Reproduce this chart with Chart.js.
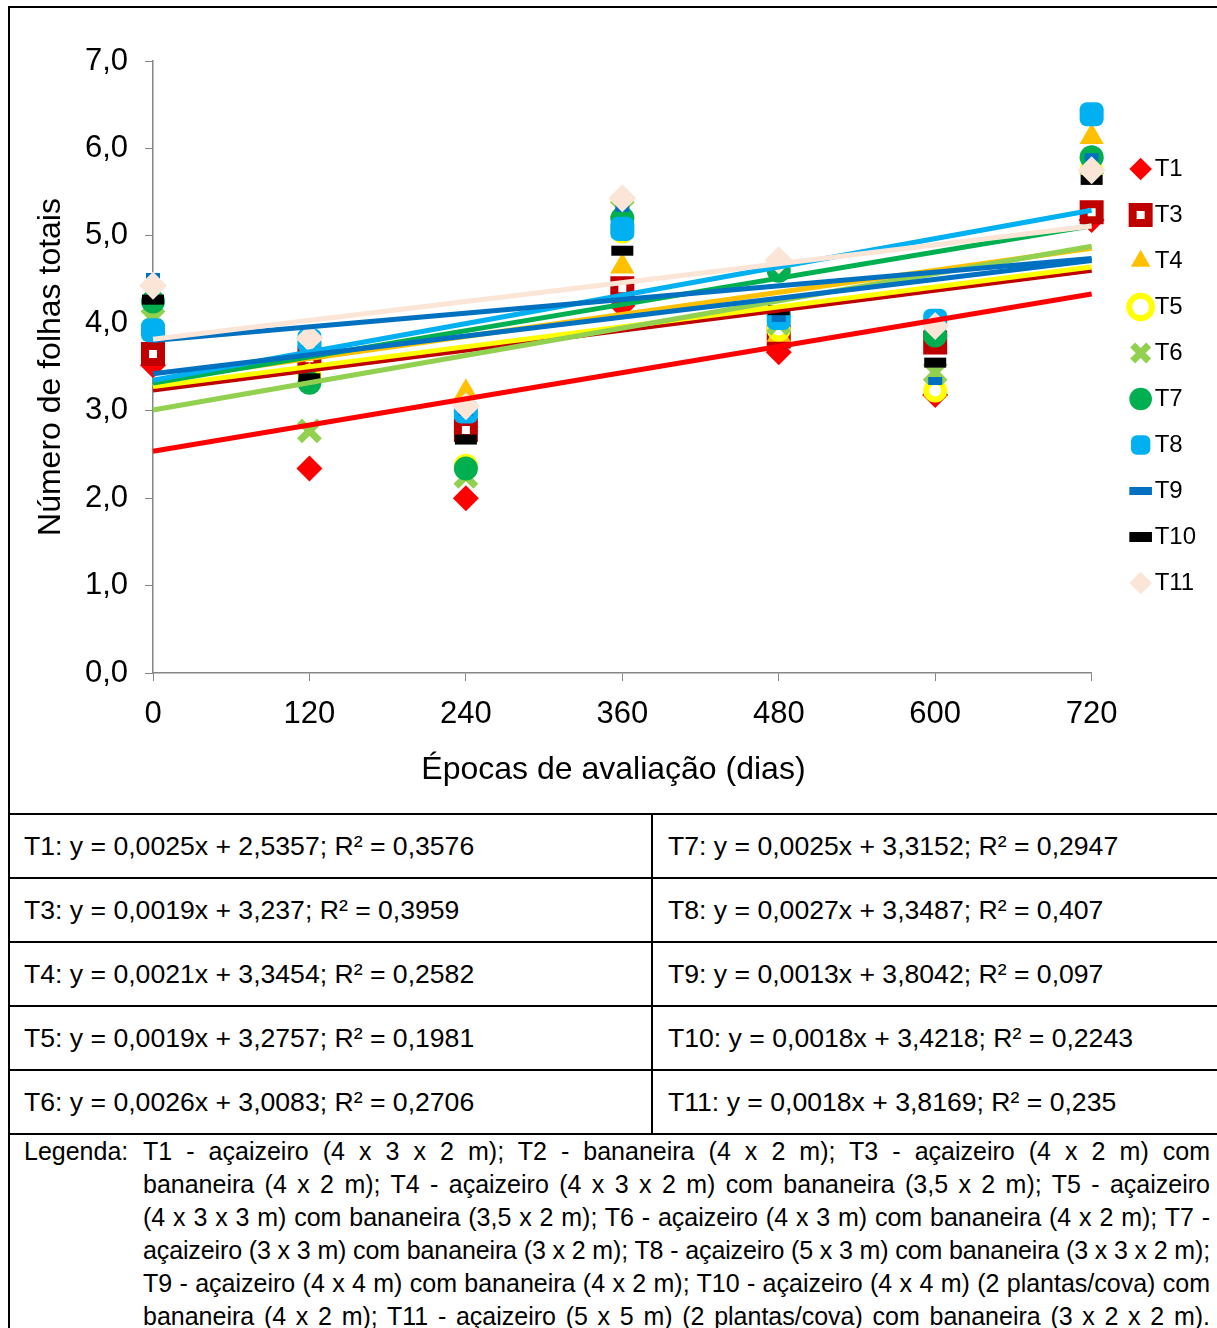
<!DOCTYPE html>
<html lang="pt">
<head>
<meta charset="utf-8">
<title>Número de folhas totais</title>
<script src="https://cdn.jsdelivr.net/npm/chart.js@4.4.0/dist/chart.umd.min.js"></script>
<style>
  body { margin: 0; background: #fff; color: #000; font-family: "Liberation Sans", Arial, sans-serif; }
  #frame { position: absolute; left: 8px; top: 6px; width: 1220px; border-left: 2px solid #000; border-top: 2px solid #000; }
  #plot { height: 805px; border-bottom: 2px solid #000; }
  table { border-collapse: collapse; }
  td { height: 62px; padding: 0; border-bottom: 2px solid #000; font-size: 26.6px; white-space: nowrap; }
  td.c1 { width: 627px; padding-left: 14px; border-right: 2px solid #000; }
  td.c2 { width: 560px; padding-left: 15px; }
  #legenda { display: flex; padding: 0 0 0 14px; font-size: 25px; line-height: 33px; }
  #legenda .rot { width: 119px; }
  #legenda .txt { width: 1067px; }
  #legenda .ln { white-space: nowrap; text-align: justify; text-align-last: justify; }
</style>
</head>
<body>
<div id="frame">
  <div id="plot"><canvas id="graf" width="1207" height="805"></canvas></div>
  <table id="eqs"></table>
  <div id="legenda">
    <div class="rot">Legenda:</div>
    <div class="txt">
      <div class="ln">T1 - açaizeiro (4 x 3 x 2 m); T2 - bananeira (4 x 2 m); T3 - açaizeiro (4 x 2 m) com</div>
      <div class="ln">bananeira (4 x 2 m); T4 - açaizeiro (4 x 3 x 2 m) com bananeira (3,5 x 2 m); T5 - açaizeiro</div>
      <div class="ln">(4 x 3 x 3 m) com bananeira (3,5 x 2 m); T6 - açaizeiro (4 x 3 m) com bananeira (4 x 2 m); T7 -</div>
      <div class="ln">açaizeiro (3 x 3 m) com bananeira (3 x 2 m); T8 - açaizeiro (5 x 3 m) com bananeira (3 x 3 x 2 m);</div>
      <div class="ln">T9 - açaizeiro (4 x 4 m) com bananeira (4 x 2 m); T10 - açaizeiro (4 x 4 m) (2 plantas/cova) com</div>
      <div class="ln">bananeira (4 x 2 m); T11 - açaizeiro (5 x 5 m) (2 plantas/cova) com bananeira (3 x 2 x 2 m).</div>
    </div>
  </div>
</div>
<script>
// dados
const epocas = [0, 120, 240, 360, 480, 600, 720];
const yTicks = [0, 1, 2, 3, 4, 5, 6, 7];
const tratamentos = ["T1", "T3", "T4", "T5", "T6", "T7", "T8", "T9", "T10", "T11"];

const t1  = [3.52, 2.34, 2.00, 4.20, 3.67, 3.18, 5.18];
const t3  = [3.65, 3.60, 2.78, 4.40, 3.85, 3.78, 5.27];
const t4  = [4.00, 3.40, 3.21, 4.65, 3.87, 3.24, 6.13];
const t5  = [3.95, 3.40, 2.37, 5.05, 3.93, 3.23, 5.75];
const t6  = [4.05, 2.77, 2.25, 5.30, 4.00, 3.44, 5.80];
const t7  = [4.25, 3.32, 2.34, 5.20, 4.60, 3.86, 5.90];
const t8  = [3.92, 3.80, 2.99, 5.08, 4.06, 4.03, 6.39];
const t9  = [4.53, 3.78, 2.99, 5.32, 4.06, 3.34, 5.90];
const t10 = [4.27, 3.37, 2.67, 4.83, 4.15, 3.55, 5.64];
const t11 = [4.43, 3.83, 3.05, 5.43, 4.72, 3.97, 5.75];
const series = [t1, t3, t4, t5, t6, t7, t8, t9, t10, t11];

// equações das linhas de tendência (tabela)
const coefAngular = [0.0025, 0.0019, 0.0021, 0.0019, 0.0026, 0.0025, 0.0027, 0.0013, 0.0018, 0.0018];
const coefLinear  = ["2,5357", "3,237", "3,3454", "3,2757", "3,0083", "3,3152", "3,3487", "3,8042", "3,4218", "3,8169"];
const r2          = ["0,3576", "0,3959", "0,2582", "0,1981", "0,2706", "0,2947", "0,407", "0,097", "0,2243", "0,235"];

const num = s => parseFloat(s.replace(",", "."));
const fmt = (v, d) => v.toFixed(d).replace(".", ",");

// estilos
const marcadores = [
  { pointStyle: "rectRot", radius: 13, bg: "#FF0000", bc: "#FF0000", bw: 0 },
  { pointStyle: "rect", radius: 11.3, bg: "#FFFFFF", bc: "#C00000", bw: 8 },
  { pointStyle: "triangle", radius: 14, bg: "#FFC000", bc: "#FFC000", bw: 0 },
  { pointStyle: "circle", radius: 9, bg: "#FFFFFF", bc: "#FFFF00", bw: 6 },
  { pointStyle: "crossRot", radius: 14, bg: "#92D050", bc: "#92D050", bw: 7 },
  { pointStyle: "circle", radius: 12, bg: "#00B050", bc: "#00B050", bw: 0 },
  { pointStyle: "rectRounded", radius: 14, bg: "#00B0F0", bc: "#00B0F0", bw: 0 },
  { pointStyle: "line", radius: 7, bg: "#0070C0", bc: "#0070C0", bw: 8 },
  { pointStyle: "line", radius: 11, bg: "#000000", bc: "#000000", bw: 10 },
  { pointStyle: "rectRot", radius: 14, bg: "#FBE5D6", bc: "#FBE5D6", bw: 0 }
];
const coresTendencia = ["#FF0000", "#C00000", "#FFC000", "#FFFF00", "#92D050", "#00B050", "#00B0F0", "#0070C0", "#0070C0", "#FBE5D6"];

// tabela de equações
const tab = document.getElementById("eqs");
const eqTxt = i => tratamentos[i] + ": y = " + fmt(coefAngular[i], 4) + "x + " + coefLinear[i] + "; R² = " + r2[i];
for (let r = 0; r < 5; r++) {
  const tr = document.createElement("tr");
  tr.innerHTML = '<td class="c1">' + eqTxt(r) + '</td><td class="c2">' + eqTxt(r + 5) + "</td>";
  tab.appendChild(tr);
}

// ajusta linhas da legenda que não cabem
document.querySelectorAll("#legenda .ln").forEach(el => {
  const over = el.scrollWidth - el.clientWidth;
  if (over > 0) el.style.letterSpacing = (-over / el.textContent.length) + "px";
});

Chart.defaults.font.family = "'Liberation Sans', Arial, sans-serif";
Chart.defaults.color = "#000";

const datasets = [];
series.forEach((s, i) => {
  const m = marcadores[i];
  datasets.push({
    label: tratamentos[i],
    data: s.map((v, k) => ({ x: epocas[k], y: v })),
    pointStyle: m.pointStyle,
    pointRadius: m.radius,
    pointHoverRadius: m.radius,
    pointBackgroundColor: m.bg,
    pointBorderColor: m.bc,
    pointBorderWidth: m.bw,
    backgroundColor: m.bg,
    borderColor: m.bc,
    showLine: false,
    clip: false,
    order: 100 - i
  });
});
series.forEach((s, i) => {
  const a = num(coefLinear[i]);
  const b = coefAngular[i];
  datasets.push({
    label: "Linear (" + tratamentos[i] + ")",
    data: [{ x: epocas[0], y: a + b * epocas[0] }, { x: epocas[epocas.length - 1], y: a + b * epocas[epocas.length - 1] }],
    showLine: true,
    borderColor: coresTendencia[i],
    backgroundColor: coresTendencia[i],
    borderWidth: 5,
    pointRadius: 0,
    clip: false,
    order: 10 - i
  });
});

new Chart(document.getElementById("graf"), {
  type: "scatter",
  data: { datasets: datasets },
  options: {
    responsive: false,
    animation: false,
    layout: { padding: { left: 22, top: 53, right: 11, bottom: 24 } },
    plugins: {
      tooltip: { enabled: false },
      legend: {
        position: "right",
        align: "center",
        fullSize: false,
        title: { display: true, text: " ", font: { size: 10 }, padding: { top: 3, bottom: 3 } },
        labels: {
          usePointStyle: true,
          boxWidth: 4,
          boxHeight: 16,
          padding: 22,
          color: "#000",
          font: { size: 24 },
          filter: item => item.datasetIndex < series.length,
          sort: (a, b) => a.datasetIndex - b.datasetIndex
        }
      }
    },
    scales: {
      x: {
        type: "linear",
        min: epocas[0],
        max: epocas[epocas.length - 1],
        afterBuildTicks: sc => { sc.ticks = epocas.map(v => ({ value: v })); },
        afterFit: sc => { sc.height = 116; },
        border: { color: "#868686", width: 1.5 },
        grid: { drawOnChartArea: false, drawTicks: true, tickLength: 8, color: "#868686" },
        ticks: { padding: 15, font: { size: 31 }, maxRotation: 0 },
        title: { display: true, text: "Épocas de avaliação (dias)\u00A0\u00A0", font: { size: 32 }, padding: 0 }
      },
      y: {
        min: yTicks[0],
        max: yTicks[yTicks.length - 1],
        afterBuildTicks: sc => { sc.ticks = yTicks.map(v => ({ value: v })); },
        afterFit: sc => { sc.width = 121; },
        border: { color: "#868686", width: 1.5 },
        grid: { drawOnChartArea: false, drawTicks: true, tickLength: 8, color: "#868686" },
        ticks: { padding: 17, font: { size: 31 }, callback: v => fmt(v, 1) },
        title: { display: true, text: "Número de folhas totais", font: { size: 32 }, padding: 0 }
      },
      folga: {
        type: "linear",
        position: "right",
        display: true,
        grid: { display: false },
        ticks: { display: false },
        border: { display: false },
        afterFit: sc => { sc.width = 25; }
      }
    }
  }
});
</script>
</body>
</html>
